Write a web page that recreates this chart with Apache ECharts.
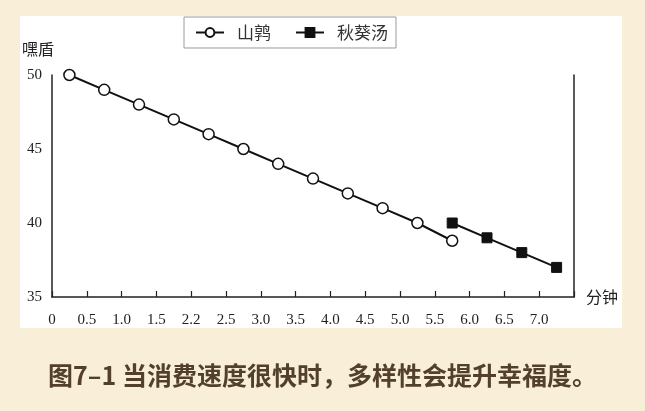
<!DOCTYPE html>
<html>
<head>
<meta charset="utf-8">
<script src="https://cdn.jsdelivr.net/npm/echarts@6/dist/echarts.min.js"></script>
<style>
html,body{margin:0;padding:0;background:#f9efd9;}
#c{width:645px;height:411px;}
</style>
</head>
<body>
<div id="c"></div>
<script>
// ---- data ----
var xTickLabels = ['0','0.5','1.0','1.5','2.2','2.5','3.0','3.5','4.0','4.5','5.0','5.5','6.0','6.5','7.0',''];
var partridgeX = [0.25,0.75,1.25,1.75,2.25,2.75,3.25,3.75,4.25,4.75,5.25,5.75];
var partridgeY = [50,49,48,47,46,45,44,43,42,41,40,38.8];
var okraX = [5.75,6.25,6.75,7.25];
var okraY = [40,39,38,37];
var seriesNames = ['山鹑','秋葵汤'];
var yAxisName = '嘿盾';
var xAxisName = '分钟';
var caption = '图7–1 当消费速度很快时，多样性会提升幸福度。';

function pairs(xs, ys){ return xs.map(function(x,i){ return [x, ys[i]]; }); }

var chart = echarts.init(document.getElementById('c'));
var axisColor = '#222';
var serif = '"Liberation Serif", "DejaVu Serif", serif';
var cjk = '"Noto Sans CJK SC", sans-serif';

chart.setOption({
  backgroundColor: '#f9efd9',
  animation: false,
  graphic: [{
    type: 'rect', z: -10, silent: true,
    shape: {x: 20, y: 16, width: 602, height: 312},
    style: {fill: '#ffffff'}
  }],
  title: {
    text: caption,
    left: 'center',
    top: 358,
    textStyle: {fontFamily: cjk, fontSize: 25, fontWeight: 'bold', color: '#52402d'}
  },
  legend: {
    left: 184, top: 17,
    padding: [7, 8, 7, 11],
    borderColor: '#9a9a9a', borderWidth: 1,
    backgroundColor: '#ffffff',
    itemWidth: 28, itemHeight: 11, itemGap: 24,
    textStyle: {fontFamily: cjk, fontSize: 17, color: '#333', padding: [0,0,0,8]},
    data: seriesNames
  },
  grid: {left: 52, right: 71, top: 75, bottom: 114},
  xAxis: {
    type: 'value', min: 0, max: 7.5, interval: 0.5,
    name: xAxisName, nameLocation: 'end', nameGap: 12,
    nameTextStyle: {fontFamily: cjk, fontSize: 16, color: '#222'},
    axisLine: {show: true, lineStyle: {color: axisColor, width: 1.5}},
    axisTick: {show: true, inside: true, length: 6, lineStyle: {color: axisColor, width: 1.2}},
    splitLine: {show: false},
    axisLabel: {
      margin: 16, fontFamily: serif, fontSize: 15, color: '#222',
      formatter: function(v){ var i = Math.round(v/0.5); return xTickLabels[i] || ''; }
    }
  },
  yAxis: [{
    type: 'value', min: 35, max: 50, interval: 5,
    name: yAxisName, nameLocation: 'end', nameGap: 18,
    nameTextStyle: {fontFamily: cjk, fontSize: 16, color: '#222', align: 'right', padding: [0, -2, 0, 0]},
    axisLine: {show: true, lineStyle: {color: axisColor, width: 1.5}},
    axisTick: {show: false},
    splitLine: {show: false},
    axisLabel: {margin: 10, fontFamily: serif, fontSize: 15, color: '#222'}
  }, {
    type: 'value', min: 35, max: 50, interval: 5, position: 'right',
    axisLine: {show: true, lineStyle: {color: axisColor, width: 1.5}},
    axisTick: {show: false}, axisLabel: {show: false}, splitLine: {show: false}
  }],
  series: [{
    name: seriesNames[0], type: 'line',
    data: pairs(partridgeX, partridgeY),
    symbol: 'circle', symbolSize: 11,
    lineStyle: {color: '#111', width: 2},
    itemStyle: {color: '#ffffff', borderColor: '#111', borderWidth: 1.5},
    z: 3
  }, {
    name: seriesNames[1], type: 'line',
    data: pairs(okraX, okraY),
    symbol: 'rect', symbolSize: 10,
    lineStyle: {color: '#111', width: 2},
    itemStyle: {color: '#111', borderColor: '#111', borderWidth: 1},
    z: 3
  }]
});
</script>
</body>
</html>
